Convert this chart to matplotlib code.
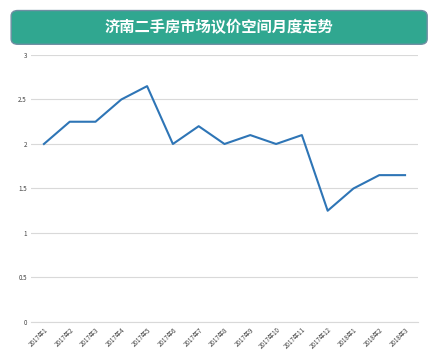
import matplotlib
matplotlib.use('Agg')
import matplotlib.pyplot as plt
from matplotlib.patches import FancyBboxPatch

plt.rcParams['font.family'] = ['Noto Sans CJK SC', 'DejaVu Sans']

# 月份与议价空间数据
months = ['2017年1', '2017年2', '2017年3', '2017年4', '2017年5', '2017年6',
          '2017年7', '2017年8', '2017年9', '2017年10', '2017年11', '2017年12',
          '2018年1', '2018年2', '2018年3']
values = [2.0, 2.25, 2.25, 2.5, 2.65, 2.0, 2.2, 2.0, 2.1, 2.0, 2.1, 1.25,
          1.5, 1.65, 1.65]
yticks = [0, 0.5, 1, 1.5, 2, 2.5, 3]
ytick_labels = ['0', '0.5', '1', '1.5', '2', '2.5', '3']

fig = plt.figure(figsize=(4.45, 3.63), dpi=100)

# 标题框
box = FancyBboxPatch((0.025, 0.878), 0.935, 0.093,
                     boxstyle='round,pad=0,rounding_size=0.015',
                     transform=fig.transFigure, facecolor='#30a790',
                     edgecolor='#6f8fa3', linewidth=1.0)
fig.patches.append(box)
fig.text(0.4925, 0.925, '济南二手房市场议价空间月度走势', color='white',
         fontsize=11, fontweight='bold', ha='center', va='center')

ax = fig.add_axes([0.0697, 0.113, 0.8695, 0.7355])
x = list(range(len(months)))
ax.plot(x, values, color='#2e75b6', linewidth=1.5)
ax.set_xlim(-0.5, len(months) - 0.5)
ax.set_ylim(0, 3)
ax.set_yticks(yticks)
ax.set_yticklabels(ytick_labels, fontsize=4.5, color='#404040')
ax.set_xticks(x)
ax.set_xticklabels(months, rotation=45, ha='right', rotation_mode='anchor',
                   fontsize=4.5, color='#404040')
ax.grid(axis='y', color='#d9d9d9', linewidth=0.8)
ax.set_axisbelow(True)
for s in ax.spines.values():
    s.set_visible(False)
ax.spines['bottom'].set_visible(True)
ax.spines['bottom'].set_color('#d9d9d9')
ax.tick_params(length=0, pad=3)

fig.savefig('out.png', dpi=100)
